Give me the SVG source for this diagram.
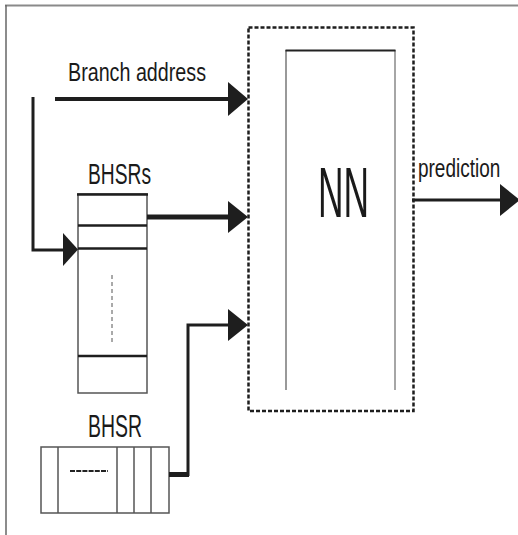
<svg xmlns="http://www.w3.org/2000/svg" width="518" height="535" viewBox="0 0 518 535">
<style>
  .t { font-family: "Liberation Sans", Arial, sans-serif; fill: #1a1a1a; }
  .ln { stroke: #1e1e1e; fill: none; }
  .ah { fill: #1e1e1e; }
  .box { stroke: #555; stroke-width: 1.5; fill: #fff; }
  .bar { stroke: #1e1e1e; stroke-width: 2.5; }
</style>
<rect width="518" height="535" fill="#fff"/>
<g id="frame">
  <line x1="5" y1="5.5" x2="518" y2="5.5" stroke="#8a8a8a" stroke-width="2"/>
  <line x1="6" y1="5" x2="6" y2="535" stroke="#666" stroke-width="1.5"/>
</g>
<g id="nn">
  <rect x="248.5" y="27.5" width="165" height="383.5" fill="none" stroke="#1e1e1e" stroke-width="2.5" stroke-dasharray="4 2"/>
  <line x1="286" y1="390" x2="286" y2="50" stroke="#777" stroke-width="1.5"/>
  <line x1="395" y1="390" x2="395" y2="50" stroke="#888" stroke-width="1.5"/>
  <line x1="285.5" y1="50.5" x2="395.5" y2="50.5" stroke="#222" stroke-width="2"/>
  <text class="t" x="318" y="217" font-size="70" textLength="51" lengthAdjust="spacingAndGlyphs">NN</text>
</g>
<g id="bhsrs">
  <text class="t" x="88" y="184" font-size="29" textLength="63" lengthAdjust="spacingAndGlyphs">BHSRs</text>
  <rect class="box" x="78" y="194" width="69" height="199"/>
  <line class="bar" x1="77" y1="194.5" x2="148" y2="194.5" stroke-width="3.5"/>
  <line class="bar" x1="78" y1="225.5" x2="147" y2="225.5"/>
  <line class="bar" x1="78" y1="248.5" x2="147" y2="248.5"/>
  <line class="bar" x1="78" y1="356" x2="147" y2="356"/>
  <line x1="112" y1="275" x2="112" y2="342" stroke="#555" stroke-width="1" stroke-dasharray="4 3"/>
</g>
<g id="bhsr">
  <text class="t" x="88" y="437" font-size="31" textLength="54" lengthAdjust="spacingAndGlyphs">BHSR</text>
  <rect class="box" x="41" y="447" width="128" height="66"/>
  <line class="box" x1="58" y1="447" x2="58" y2="513"/>
  <line class="box" x1="117" y1="447" x2="117" y2="513"/>
  <line class="box" x1="134" y1="447" x2="134" y2="513"/>
  <line class="box" x1="151" y1="447" x2="151" y2="513"/>
  <line x1="70" y1="471" x2="108" y2="471" stroke="#222" stroke-width="2" stroke-dasharray="5 1.2"/>
</g>
<g id="labels">
  <text class="t" x="68" y="81" font-size="26" textLength="138" lengthAdjust="spacingAndGlyphs">Branch address</text>
  <text class="t" transform="translate(418,177) scale(0.73,1)" x="0" y="0" font-size="26">prediction</text>
</g>
<g id="connectors">
  <line class="ln" x1="55" y1="99" x2="230" y2="99" stroke-width="4"/>
  <polygon class="ah" points="228,82 248,99 228,116"/>
  <polyline class="ln" points="33,97 33,250 64,250" stroke-width="3"/>
  <polygon class="ah" points="63,233 78,249.5 63,266"/>
  <line class="ln" x1="147" y1="217" x2="230" y2="217" stroke-width="5"/>
  <polygon class="ah" points="228,201 248,217 228,233"/>
  <polyline class="ln" points="169,474.5 188,474.5 188,325 230,325" stroke-width="3"/>
  <line class="ln" x1="169" y1="474.5" x2="189" y2="474.5" stroke-width="5"/>
  <polygon class="ah" points="228,309 248,325 228,341"/>
  <line class="ln" x1="412" y1="200" x2="502" y2="200" stroke-width="3"/>
  <polygon class="ah" points="500,184 520,200 500,216"/>
</g>
</svg>
